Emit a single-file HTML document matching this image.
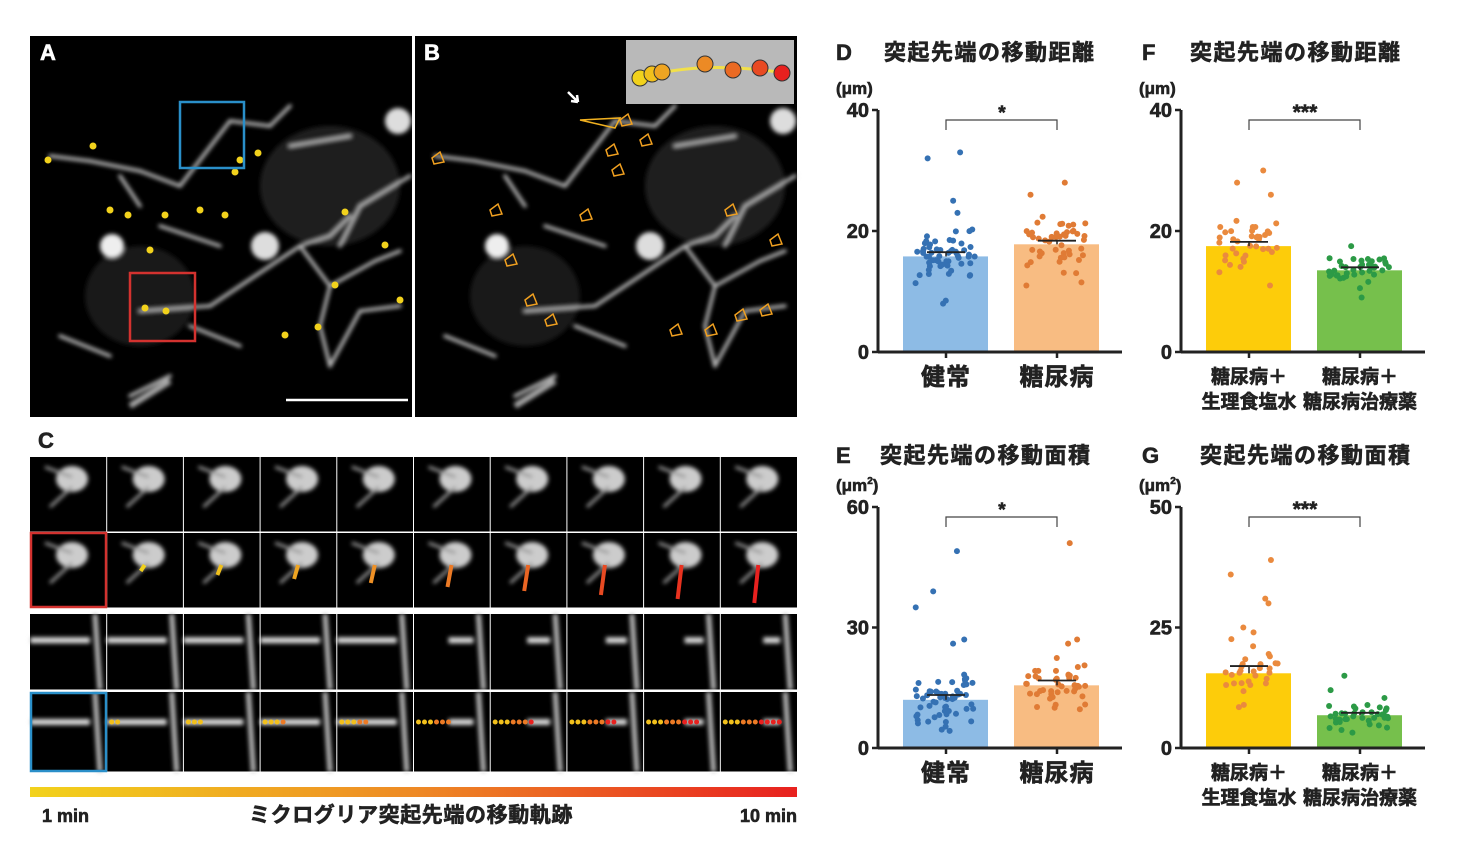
<!DOCTYPE html>
<html><head><meta charset="utf-8"><style>
html,body{margin:0;padding:0;background:#fff;}
svg{display:block;font-family:"Liberation Sans","Noto Sans CJK JP",sans-serif;}
text{font-weight:bold;fill:#222;stroke:#222;stroke-width:0.6;}
.w{fill:#fff;stroke:#fff;}
</style></head><body>
<svg id="s" width="1470" height="861" viewBox="0 0 1470 861" xmlns="http://www.w3.org/2000/svg">
<defs>
<filter id="bl" x="-20%" y="-20%" width="140%" height="140%"><feGaussianBlur stdDeviation="2"/></filter>
<linearGradient id="gr" x1="0" x2="1"><stop offset="0" stop-color="#f2d21c"/><stop offset="0.5" stop-color="#ee8a25"/><stop offset="1" stop-color="#e8211f"/></linearGradient>
</defs>
<rect x="30" y="36" width="382" height="381" fill="#000"/>
<rect x="415" y="36" width="382" height="381" fill="#000"/>
<g id="cellA"></g>
<text x="40" y="60" class="w" font-size="22">A</text>
<text x="424" y="60" class="w" font-size="22">B</text>
<rect x="180" y="102" width="64" height="66" fill="none" stroke="#2a8fc9" stroke-width="2.5"/>
<rect x="130" y="273" width="65" height="68" fill="none" stroke="#d3322f" stroke-width="2.5"/>
<line x1="286" y1="400" x2="408" y2="400" stroke="#fff" stroke-width="2.5"/>
<rect x="626" y="40" width="168" height="64" fill="#b9b9b9"/>
<path d="M640 78 Q700 60 785 73" stroke="#f2e04a" stroke-width="3" fill="none"/>
<g stroke="#333" stroke-width="1">
<circle cx="640" cy="78" r="8" fill="#f2d21c"/><circle cx="652" cy="74" r="8" fill="#f2c01c"/><circle cx="662" cy="72" r="8" fill="#efa522"/><circle cx="705" cy="64" r="8" fill="#ec8a25"/><circle cx="733" cy="70" r="8" fill="#ea6a23"/><circle cx="760" cy="68" r="8" fill="#e84a22"/><circle cx="782" cy="73" r="8" fill="#e8211f"/>
</g>
<text x="38" y="448" font-size="22">C</text>
<g id="gridC"></g>
<rect x="30" y="787" width="767" height="10" fill="url(#gr)"/>
<text x="42" y="822" font-size="18">1 min</text>
<text x="411" y="822" font-size="21" text-anchor="middle" letter-spacing="0.6">ミクログリア突起先端の移動軌跡</text>
<text x="797" y="822" font-size="18" text-anchor="end">10 min</text>
<g id="charts"></g>
</svg>
<script>
var NS="http://www.w3.org/2000/svg";
function el(p,tag,a,txt){var e=document.createElementNS(NS,tag);for(var k in a)e.setAttribute(k,a[k]);if(txt!==undefined)e.textContent=txt;p.appendChild(e);return e;}
var seed=7;function rnd(){seed=(seed*16807)%2147483647;return seed/2147483647;}
function gauss(){return (rnd()+rnd()+rnd()-1.5)/1.5;}
var A=document.getElementById('cellA');
function blobs(ox,oy){
 var g=el(A,'g',{filter:'url(#bl)'});
 el(g,'ellipse',{cx:ox+300,cy:oy+150,rx:70,ry:60,fill:'#333',opacity:0.6});
 el(g,'ellipse',{cx:ox+110,cy:oy+260,rx:55,ry:50,fill:'#333',opacity:0.5});
 var segs=[[20,120,60,125],[60,125,110,135],[110,135,150,150],[150,150,200,85],[200,85,240,90],[240,90,260,70],[90,140,110,170],[130,190,190,210],[110,275,180,270],[180,270,240,230],[240,230,270,210],[270,210,300,200],[300,200,320,180],[270,210,300,250],[300,250,290,290],[290,290,300,330],[300,330,330,275],[330,275,370,270],[300,250,345,225],[345,225,370,215],[330,170,380,140],[330,170,310,210],[260,110,320,100],[30,300,80,320],[100,360,140,340],[160,290,210,310]];
 segs.forEach(function(s){el(g,'line',{x1:ox+s[0],y1:oy+s[1],x2:ox+s[2],y2:oy+s[3],stroke:'#bbb','stroke-width':3.5,'stroke-linecap':'round'});});
 el(g,'circle',{cx:ox+82,cy:oy+210,r:12,fill:'#eee'});
 el(g,'circle',{cx:ox+235,cy:oy+210,r:14,fill:'#ddd'});
 el(g,'circle',{cx:ox+368,cy:oy+85,r:13,fill:'#ddd'});
 el(g,'line',{x1:ox+100,y1:oy+370,x2:ox+140,y2:oy+345,stroke:'#aaa','stroke-width':6});
}
blobs(30,36);blobs(415,36);
[[48,160],[93,146],[110,210],[128,215],[165,215],[200,210],[225,215],[235,172],[240,160],[258,153],[150,250],[145,308],[166,311],[285,335],[318,327],[335,285],[400,300],[385,245],[345,212]].forEach(function(p){el(A,'circle',{cx:p[0],cy:p[1],r:3.5,fill:'#f2d21c'});});
[[432,158],[490,210],[505,260],[525,300],[545,320],[580,215],[606,150],[612,170],[620,120],[640,140],[670,330],[705,330],[725,210],[770,240],[735,315],[760,310]].forEach(function(p){el(A,'path',{d:'M'+p[0]+' '+p[1]+' l8 -6 l4 10 l-10 2 z',stroke:'#f0a020','stroke-width':1.5,fill:'none'});});
el(A,'path',{d:'M580 120 L620 118 L615 128 Z',stroke:'#f0b020','stroke-width':1.5,fill:'none'});
el(A,'path',{d:'M568 92 l10 10 M578 102 l-1 -7 M578 102 l-7 -1',stroke:'#fff','stroke-width':2.5,fill:'none'});
var G=document.getElementById('gridC');
var rows=[[457,532],[533,608],[614,690],[692,772]];
rows.forEach(function(r,ri){
 el(G,'rect',{x:30,y:r[0],width:767,height:r[1]-r[0],fill:'#000'});
 for(var i=0;i<10;i++){var x=30+i*76.7;
  var g=el(G,'g',{filter:'url(#bl)'});
  if(ri<2){el(g,'ellipse',{cx:x+42,cy:r[0]+22,rx:16,ry:13,fill:'#ccc'});el(g,'line',{x1:x+42,y1:r[0]+20,x2:x+15,y2:r[0]+10,stroke:'#999','stroke-width':3});el(g,'line',{x1:x+42,y1:r[0]+30,x2:x+20,y2:r[0]+50,stroke:'#999','stroke-width':3});}
  else{var f=ri==2?0.35:0.4;el(g,'line',{x1:x+(i>4?25+i*2:0),y1:r[0]+f*75,x2:x+60,y2:r[0]+f*75,stroke:'#ddd','stroke-width':6});el(g,'line',{x1:x+65,y1:r[0],x2:x+70,y2:r[1],stroke:'#bbb','stroke-width':5});}
  if(ri==1&&i>0){var c=['#f2d21c','#f0c01c','#efa522','#ee9025','#ec7a25','#ea6523','#e84a22','#e8321f','#e8211f'][i-1];el(G,'line',{x1:x+38,y1:r[0]+32,x2:x+34,y2:r[0]+34+i*4,stroke:c,'stroke-width':4});}
  if(ri==3&&i>0){for(var k=0;k<=i;k++){var cc=k<3?'#f2c01c':(k<6?'#ec7a25':'#e8211f');el(G,'circle',{cx:x+5+k*6,cy:r[0]+30,r:2.5,fill:cc});}}
  if(i>0)el(G,'line',{x1:x,y1:r[0],x2:x,y2:r[1],stroke:'#fff','stroke-width':1});
 }
 el(G,'line',{x1:30,y1:r[1],x2:797,y2:r[1],stroke:'#fff','stroke-width':1});
});
el(G,'rect',{x:31,y:533,width:75,height:74,fill:'none',stroke:'#d3322f','stroke-width':2.5});
el(G,'rect',{x:31,y:693,width:75,height:78,fill:'none',stroke:'#2a8fc9','stroke-width':2.5});
var C=document.getElementById('charts');
function chart(o){
 var ax=o.ax,y0=o.y0,y1=o.y1,ymax=o.ymax;
 function Y(v){return y0-(y0-y1)*v/ymax;}
 el(C,'text',{x:o.lx,y:o.ty,'font-size':22},o.letter);
 el(C,'text',{x:o.tx,y:o.ty,'font-size':22,'letter-spacing':1.5},o.title);
 var u=el(C,'text',{x:ax-42,y:y1-16,'font-size':17},o.unit);
 if(o.sup){el(u,'tspan',{'font-size':10,dy:-7},'2');el(u,'tspan',{dy:7},')');}
 o.bars.forEach(function(b,i){
  var bx=ax+25+i*111;
  el(C,'rect',{x:bx,y:Y(b.m),width:85,height:y0-Y(b.m),fill:b.bar});
  for(var k=0;k<b.n;k++){var v=b.m+gauss()*b.sd*1.8;if(k<b.out.length)v=b.out[k];if(v<0.5)v=0.5+rnd();
   el(C,'circle',{cx:bx+42+(rnd()-0.5)*60,cy:Y(v),r:3,fill:b.dot});}
  el(C,'line',{x1:bx+24,y1:Y(b.m+b.se),x2:bx+62,y2:Y(b.m+b.se),stroke:'#222','stroke-width':1.8});
  el(C,'line',{x1:bx+43,y1:Y(b.m),x2:bx+43,y2:Y(b.m+b.se),stroke:'#222','stroke-width':1.5});
  el(C,'line',{x1:bx+43,y1:y0,x2:bx+43,y2:y0+6,stroke:'#222','stroke-width':2.5});
  b.lab.forEach(function(l,j){el(C,'text',{x:bx+43,y:y0+(b.lab.length>1?31+j*25:33),'text-anchor':'middle','font-size':b.lab.length>1?19:24,'letter-spacing':b.lab.length>1?0:1},l);});
 });
 el(C,'line',{x1:ax,y1:y1,x2:ax,y2:y0+1,stroke:'#222','stroke-width':3});
 el(C,'line',{x1:ax,y1:y0,x2:ax+244,y2:y0,stroke:'#222','stroke-width':3});
 o.ticks.forEach(function(t){el(C,'line',{x1:ax-6,y1:Y(t),x2:ax,y2:Y(t),stroke:'#222','stroke-width':2.5});
  el(C,'text',{x:ax-9,y:Y(t)+7,'text-anchor':'end','font-size':20},String(t));});
 var by=y1+10;
 el(C,'path',{d:'M'+(ax+68)+' '+(by+10)+' V'+by+' H'+(ax+179)+' V'+(by+10),stroke:'#444','stroke-width':1.2,fill:'none'});
 el(C,'text',{x:ax+124,y:by-1,'text-anchor':'middle','font-size':o.star.length>1?21:19},o.star);
}
var blue={bar:'#8dbbe5',dot:'#3571b3'},orng={bar:'#f8bc82',dot:'#e07b35'},yel={bar:'#fdcc0a',dot:'#ea8a3e'},grn={bar:'#76c04c',dot:'#2c9a46'};
function B(c,m,se,sd,n,out,lab){return {bar:c.bar,dot:c.dot,m:m,se:se,sd:sd,n:n,out:out,lab:lab};}
chart({letter:'D',lx:836,tx:884,ty:60,title:'突起先端の移動距離',unit:'(μm)',ax:878,y0:352,y1:110,ymax:40,ticks:[0,20,40],star:'*',
 bars:[B(blue,15.8,0.7,3,60,[32,33,25,23,8,8.5],['健常']),B(orng,17.8,0.6,3,50,[28,26,11,11.5],['糖尿病'])]});
chart({letter:'F',lx:1142,tx:1190,ty:60,title:'突起先端の移動距離',unit:'(μm)',ax:1181,y0:352,y1:110,ymax:40,ticks:[0,20,40],star:'***',
 bars:[B(yel,17.5,0.7,3.5,40,[30,28,26,11],['糖尿病＋','生理食塩水']),B(grn,13.5,0.5,2,40,[17.5,9],['糖尿病＋','糖尿病治療薬'])]});
chart({letter:'E',lx:836,tx:880,ty:463,title:'突起先端の移動面積',unit:'(μm',sup:1,ax:878,y0:748,y1:507,ymax:60,ticks:[0,30,60],star:'*',
 bars:[B(blue,12,1.2,5,60,[49,39,35,27,26],['健常']),B(orng,15.6,1.2,5,45,[51,27,26],['糖尿病'])]});
chart({letter:'G',lx:1142,tx:1200,ty:463,title:'突起先端の移動面積',unit:'(μm',sup:1,ax:1181,y0:748,y1:507,ymax:50,ticks:[0,25,50],star:'***',
 bars:[B(yel,15.5,1.5,6,35,[39,36,31,30,25,24],['糖尿病＋','生理食塩水']),B(grn,6.8,0.5,2.5,40,[15,12],['糖尿病＋','糖尿病治療薬'])]});
</script>
</body></html>
